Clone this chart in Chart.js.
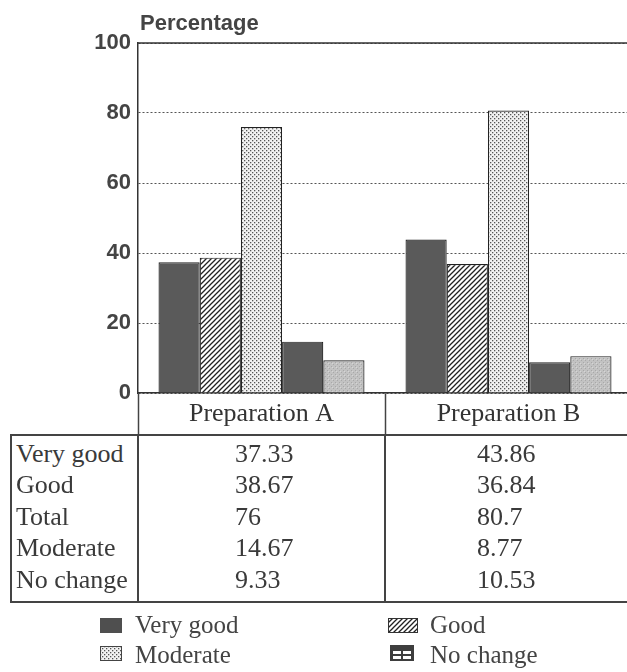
<!DOCTYPE html>
<html>
<head>
<meta charset="utf-8">
<title>Percentage by preparation</title>
<script src="https://cdn.jsdelivr.net/npm/chart.js@4.4.1/dist/chart.umd.min.js"></script>
<style>
  html, body { margin: 0; padding: 0; background: #fff; }
  #wrap { position: relative; width: 627px; height: 672px; overflow: hidden; }
  #plot { position: absolute; left: 0; top: 0; width: 632px; height: 435px; }
  .ln { position: absolute; background: #444; }
  .txt {
    position: absolute; white-space: nowrap; color: #3a3a3a;
    font-family: "Liberation Serif", "DejaVu Serif", serif;
    font-size: 26px; line-height: 31.5px;
  }
  .leg { font-size: 25px; line-height: 30px; color: #444; }
  .ico { position: absolute; }
</style>
</head>
<body>
<div id="wrap">
  <div id="plot"><canvas id="chart"></canvas></div>
</div>
<script>
(function () {
  'use strict';

  // dados
  var categories = ['Preparation A', 'Preparation B'];
  var seriesNames = ['Very good', 'Good', 'Total', 'Moderate', 'No change'];
  var veryGood = [37.33, 43.86];
  var good = [38.67, 36.84];
  var total = [76, 80.7];
  var moderate = [14.67, 8.77];
  var noChange = [9.33, 10.53];
  var yTicks = [0, 20, 40, 60, 80, 100];
  var legendNames = ['Very good', 'Good', 'Moderate', 'No change'];

  var serif = '"Liberation Serif", "DejaVu Serif", serif';
  var sans = '"Liberation Sans", Arial, sans-serif';

  function tile(w, h, draw) {
    var c = document.createElement('canvas');
    c.width = w; c.height = h;
    draw(c.getContext('2d'));
    return c;
  }

  function pattern(ctx, t) {
    return ctx.createPattern(t, 'repeat');
  }

  var tiles = {
    solid: tile(4, 4, function (g) {
      g.fillStyle = '#5a5a5a'; g.fillRect(0, 0, 4, 4);
    }),
    hatch: tile(5, 5, function (g) {
      g.fillStyle = '#fff'; g.fillRect(0, 0, 5, 5);
      g.strokeStyle = '#222'; g.lineWidth = 1.3;
      g.beginPath();
      g.moveTo(-1, 6); g.lineTo(6, -1);
      g.moveTo(-1, 1); g.lineTo(1, -1);
      g.moveTo(4, 6); g.lineTo(6, 4);
      g.stroke();
    }),
    dots: tile(4, 4, function (g) {
      g.fillStyle = '#f2f2f2'; g.fillRect(0, 0, 4, 4);
      g.fillStyle = '#555';
      g.fillRect(0, 0, 1.3, 1.3);
      g.fillRect(2, 2, 1.3, 1.3);
    }),
    light: tile(4, 4, function (g) {
      g.fillStyle = '#c2c2c2'; g.fillRect(0, 0, 4, 4);
      g.fillStyle = '#a8a8a8';
      g.fillRect(1, 0, 1, 1);
      g.fillRect(3, 2, 1, 1);
      g.fillStyle = '#d6d6d6';
      g.fillRect(0, 3, 1, 1);
    })
  };

  var canvas = document.getElementById('chart');
  var ctx = canvas.getContext('2d');

  var seriesValues = [veryGood, good, total, moderate, noChange];
  var seriesFill = [
    pattern(ctx, tiles.solid),
    pattern(ctx, tiles.hatch),
    pattern(ctx, tiles.dots),
    pattern(ctx, tiles.solid),
    pattern(ctx, tiles.light)
  ];

  var datasets = seriesNames.map(function (name, i) {
    return {
      label: name,
      data: seriesValues[i],
      backgroundColor: seriesFill[i],
      borderColor: '#222',
      borderWidth: 1.2,
      categoryPercentage: 0.834,
      barPercentage: 1.0
    };
  });

  var framePlugin = {
    id: 'frame',
    afterDraw: function (chart) {
      var c = chart.ctx, a = chart.chartArea, y = chart.scales.y;
      var yTop = y.getPixelForValue(100);
      c.save();
      c.strokeStyle = '#333';
      c.lineWidth = 1.5;
      c.beginPath();
      c.moveTo(a.left, yTop);
      c.lineTo(a.right, yTop);
      c.stroke();
      c.fillStyle = '#444';
      c.font = 'bold 22px ' + sans;
      c.textBaseline = 'alphabetic';
      c.fillText('Percentage', a.left + 2, yTop - 13);
      c.restore();
    }
  };

  new Chart(canvas, {
    type: 'bar',
    data: { labels: categories, datasets: datasets },
    plugins: [framePlugin],
    options: {
      responsive: true,
      maintainAspectRatio: false,
      animation: false,
      layout: { padding: { top: 43, left: 0, right: 0, bottom: 0 } },
      plugins: { legend: { display: false }, tooltip: { enabled: false } },
      scales: {
        x: {
          offset: true,
          afterFit: function (s) { s.height = 42; },
          grid: {
            offset: true, drawOnChartArea: false, drawTicks: true,
            tickLength: 42, tickColor: '#444', tickWidth: 1.5
          },
          border: { display: true, color: '#333', width: 1.5 },
          ticks: {
            padding: -36, color: '#333', maxRotation: 0, minRotation: 0, autoSkip: false,
            font: { family: serif, size: 26 }
          }
        },
        y: {
          min: 0, max: 100,
          afterBuildTicks: function (s) {
            s.ticks = yTicks.map(function (v) { return { value: v }; });
          },
          afterFit: function (s) { s.width = 138; },
          grid: { color: '#555', lineWidth: 1, drawTicks: false },
          border: { display: true, color: '#333', width: 1.5, dash: [2, 2] },
          ticks: {
            padding: 7, color: '#444',
            font: { family: sans, size: 22, weight: 'bold' }
          }
        }
      }
    }
  });

  // tabela de valores abaixo do eixo
  var wrap = document.getElementById('wrap');

  function line(x, y, w, h) {
    var d = document.createElement('div');
    d.className = 'ln';
    d.style.left = x + 'px'; d.style.top = y + 'px';
    d.style.width = w + 'px'; d.style.height = h + 'px';
    wrap.appendChild(d);
  }

  function text(str, x, y, cls) {
    var d = document.createElement('div');
    d.className = 'txt' + (cls ? ' ' + cls : '');
    d.style.left = x + 'px'; d.style.top = y + 'px';
    d.textContent = str;
    wrap.appendChild(d);
    return d;
  }

  line(10, 434, 617, 1.5);
  line(10, 601, 617, 1.5);
  line(10, 434, 1.5, 168);
  line(137, 434, 1.5, 168);
  line(384, 434, 1.5, 168);

  var colX = [235, 477];
  seriesNames.forEach(function (name, i) {
    var top = 437.5 + i * 31.5;
    text(name, 16, top);
    seriesValues[i].forEach(function (v, j) {
      text(String(v), colX[j], top);
    });
  });

  // legenda
  var legendIcons = {
    'Very good': function (g) {
      g.fillStyle = '#4f4f4f'; g.fillRect(0, 0, 22, 15);
    },
    'Good': function (g) {
      g.fillStyle = pattern(g, tiles.hatch); g.fillRect(0, 0, 30, 15);
      g.strokeStyle = '#333'; g.lineWidth = 1; g.strokeRect(0.5, 0.5, 29, 14);
    },
    'Moderate': function (g) {
      g.fillStyle = pattern(g, tiles.dots); g.fillRect(0, 0, 22, 15);
      g.strokeStyle = '#444'; g.lineWidth = 1; g.strokeRect(0.5, 0.5, 21, 14);
    },
    'No change': function (g) {
      g.fillStyle = '#3e3e3e'; g.fillRect(0, 0, 24, 16);
      g.fillStyle = '#fff';
      g.fillRect(3, 6, 8, 3); g.fillRect(13, 6, 8, 3);
      g.fillRect(3, 11, 8, 3); g.fillRect(13, 11, 8, 3);
    }
  };
  var legendPos = [
    { ix: 100, iy: 618, tx: 135, ty: 610 },
    { ix: 388, iy: 618, tx: 430, ty: 610 },
    { ix: 100, iy: 646, tx: 135, ty: 640 },
    { ix: 390, iy: 645, tx: 430, ty: 640 }
  ];
  legendNames.forEach(function (name, i) {
    var p = legendPos[i];
    var c = document.createElement('canvas');
    c.className = 'ico';
    c.width = name === 'Good' ? 30 : (name === 'No change' ? 24 : 22);
    c.height = name === 'No change' ? 16 : 15;
    c.style.left = p.ix + 'px'; c.style.top = p.iy + 'px';
    legendIcons[name](c.getContext('2d'));
    wrap.appendChild(c);
    text(name, p.tx, p.ty, 'leg');
  });
})();
</script>
</body>
</html>
